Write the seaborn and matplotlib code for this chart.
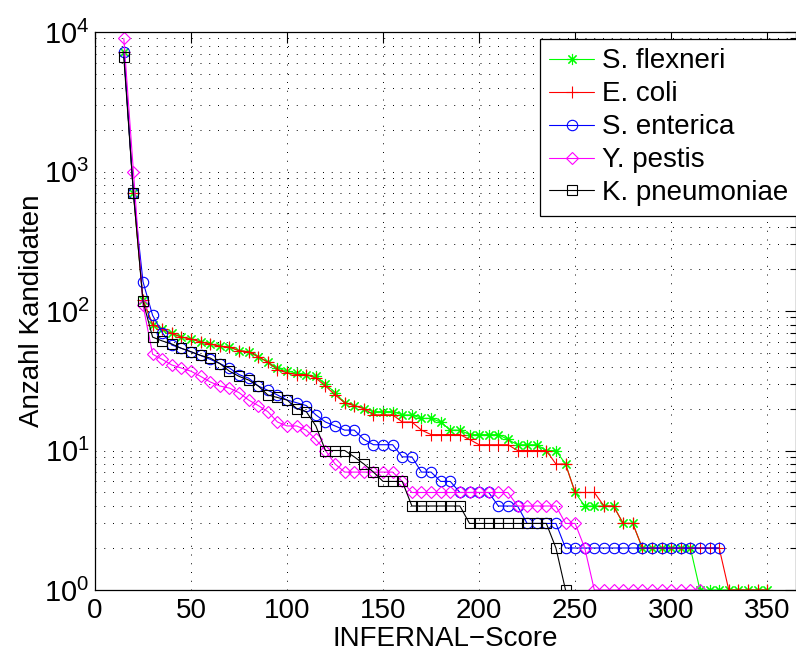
import matplotlib
matplotlib.use("Agg")
import matplotlib.pyplot as plt
import seaborn as sns
from matplotlib.ticker import LogLocator, NullFormatter, LogFormatterSciNotation

# ---------------- data ----------------
scores = [15, 20, 25, 30, 35, 40, 45, 50, 55, 60, 65, 70, 75, 80, 85, 90, 95, 100,
          105, 110, 115, 120, 125, 130, 135, 140, 145, 150, 155, 160, 165, 170, 175,
          180, 185, 190, 195, 200, 205, 210, 215, 220, 225, 230, 235, 240, 245, 250,
          255, 260, 265, 270, 275, 280, 285, 290, 295, 300, 305, 310, 315, 320, 325,
          330, 335, 340, 345, 350]

s_flexneri = [7200, 700, 120, 80, 74, 69, 65, 63, 60, 58, 56, 55, 52, 51, 47, 43, 39, 37,
              36, 35, 34, 30, 26, 22, 21, 20, 19, 19, 19, 18, 18, 17, 17,
              16, 14, 14, 13, 13, 13, 13, 12, 11, 11, 11, 10, 10, 8, 5,
              4, 4, 4, 4, 3, 3, 2, 2, 2, 2, 2, 2, 1, 1, 1,
              1, 1, 1, 1, 1]

e_coli = [7200, 700, 120, 80, 74, 69, 65, 63, 60, 58, 56, 55, 52, 51, 47, 43, 38, 36,
          35, 35, 33, 29, 25, 22, 21, 20, 18, 18, 18, 16, 16, 14, 13,
          13, 13, 13, 12, 11, 11, 11, 11, 10, 10, 10, 10, 8, 8, 5,
          5, 5, 4, 4, 3, 3, 2, 2, 2, 2, 2, 2, 2, 2, 2,
          1, 1, 1, 1, 1]

s_enterica = [7200, 700, 162, 93, 70, 57, 54, 51, 48, 45, 42, 39, 35, 33, 29, 27, 25, 23,
              22, 21, 18, 16, 15, 14, 14, 12, 11, 11, 11, 9, 9, 7, 7,
              6, 6, 5, 5, 5, 5, 4, 4, 4, 3, 3, 3, 3, 2, 2,
              2, 2, 2, 2, 2, 2, 2, 2, 2, 2, 2, 2, 2, 2, 2]

y_pestis = [9000, 1000, 110, 49, 45, 41, 39, 37, 34, 31, 29, 28, 26, 23, 21, 19, 16, 15,
            15, 14, 12, 10, 8, 7, 7, 7, 7, 7, 7, 6, 5, 5, 5,
            5, 5, 5, 5, 5, 5, 5, 5, 4, 4, 4, 4, 4, 3, 3,
            2, 1, 1, 1, 1, 1, 1, 1, 1, 1, 1, 1, 1]

k_pneumoniae = [6600, 700, 117, 65, 61, 58, 54, 51, 48, 46, 42, 37, 34, 32, 29, 25, 24, 23,
                20, 19, 15, 10, 10, 10, 9, 8, 7, 6, 6, 6, 4, 4, 4,
                4, 4, 4, 3, 3, 3, 3, 3, 3, 3, 3, 3, 2, 1]

series_names = ["S. flexneri", "E. coli", "S. enterica", "Y. pestis", "K. pneumoniae"]
series_values = [s_flexneri, e_coli, s_enterica, y_pestis, k_pneumoniae]
colors = ["#00ff00", "#ff0000", "#0000ff", "#ff00ff", "#000000"]
markers = [(8, 2, 0), "+", "o", "D", "s"]
msizes = [8, 8, 7.5, 6, 6.5]

# ---------------- style ----------------
sns.set_theme(style="white")
plt.rcParams['font.family'] = ['Liberation Sans', 'DejaVu Sans']
plt.rcParams['mathtext.fontset'] = 'custom'
plt.rcParams['mathtext.rm'] = 'Liberation Sans'
plt.rcParams['mathtext.it'] = 'Liberation Sans:italic'
plt.rcParams['mathtext.bf'] = 'Liberation Sans:bold'
plt.rcParams['text.color'] = 'black'
plt.rcParams['axes.labelcolor'] = 'black'
plt.rcParams['xtick.color'] = 'black'
plt.rcParams['ytick.color'] = 'black'

fig = plt.figure(figsize=(7.96, 6.54), dpi=100)
ax = fig.add_axes([95 / 796, 1 - 590 / 654, 1 - 95 / 796, (590 - 32) / 654])

for name, vals, c, m, ms in zip(series_names, series_values, colors, markers, msizes):
    sns.lineplot(x=scores[:len(vals)], y=vals, ax=ax, color=c, marker=m,
                 markersize=ms, markerfacecolor='none', markeredgecolor=c,
                 markeredgewidth=0.8, linewidth=0.8, label=name,
                 estimator=None, sort=False)

ax.set_yscale('log')
ax.set_ylim(1, 1e4)
ax.set_xlim(0, 365)
ax.set_xticks(list(range(0, 351, 50)))
ax.yaxis.set_major_locator(LogLocator(base=10, numticks=10))
ax.yaxis.set_minor_locator(LogLocator(base=10, subs=range(2, 10), numticks=20))
ax.yaxis.set_minor_formatter(NullFormatter())
ax.yaxis.set_major_formatter(LogFormatterSciNotation())

ax.tick_params(which='both', direction='in', top=True, right=True, colors='black')
ax.tick_params(which='major', length=8, width=0.8)
ax.tick_params(which='minor', length=4, width=0.8)
ax.tick_params(axis='x', labelsize=20, pad=6)
ax.tick_params(axis='y', labelsize=21, pad=4)

gs = dict(linestyle=(0, (1, 8)), color='black', linewidth=0.7)
ax.grid(True, which='major', axis='both', **gs)
ax.grid(True, which='minor', axis='y', **gs)
ax.set_axisbelow(True)

for sp in ax.spines.values():
    sp.set_color('black')
    sp.set_linewidth(0.9)

ax.set_xlabel('INFERNAL\u2212Score', fontsize=20, labelpad=1)
ax.set_ylabel('Anzahl Kandidaten', fontsize=20, labelpad=-1)

leg = ax.legend(loc='upper right', bbox_to_anchor=(1.003, 0.988), frameon=True,
                fancybox=False, edgecolor='black', framealpha=1, fontsize=20,
                handlelength=1.6, handletextpad=0.3, labelspacing=0.25,
                borderpad=0.35, borderaxespad=0)
leg.get_frame().set_linewidth(0.9)

fig.savefig('out.png', dpi=100)
